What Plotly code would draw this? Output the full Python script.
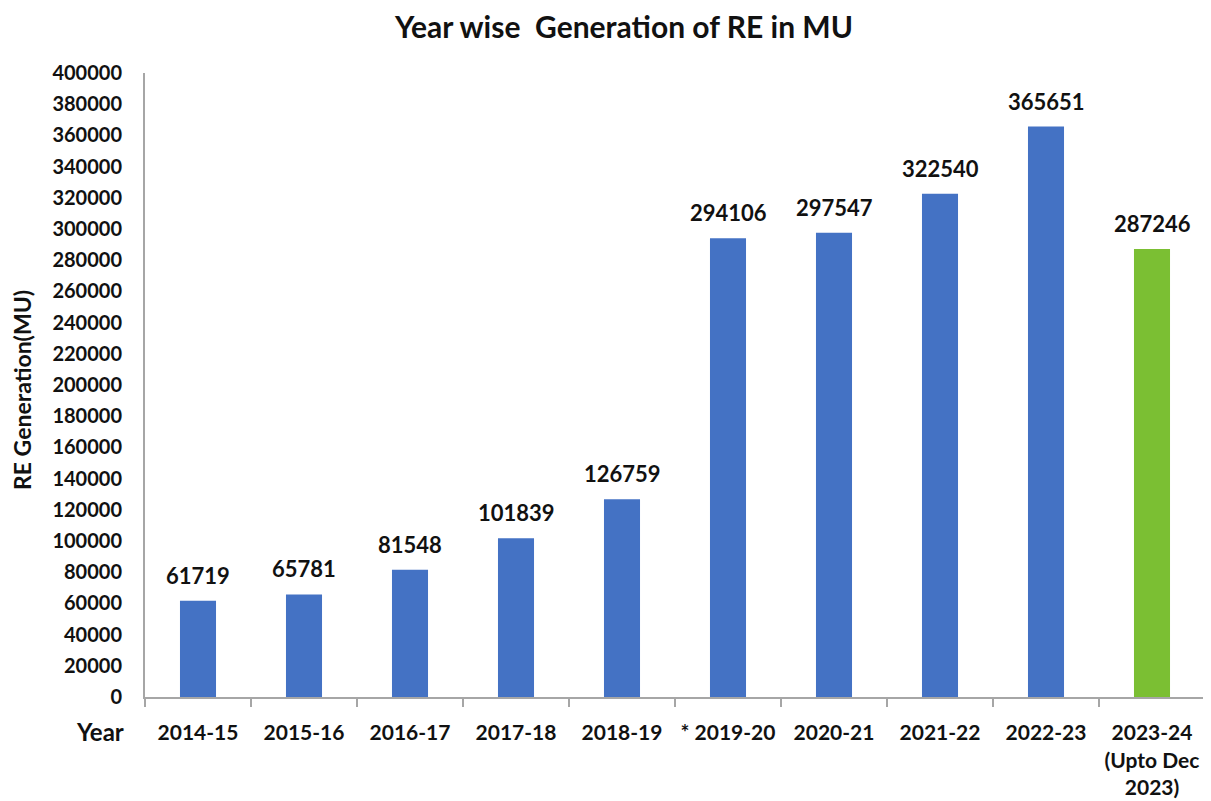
import plotly.graph_objects as go

years = ["2014-15", "2015-16", "2016-17", "2017-18", "2018-19", "* 2019-20",
         "2020-21", "2021-22", "2022-23", "2023-24<br>(Upto Dec<br>2023)"]
generation = [61719, 65781, 81548, 101839, 126759, 294106, 297547, 322540, 365651, 287246]
bar_colors = ["#4472C4"] * 9 + ["#7BBF33"]
y_ticks = list(range(0, 400001, 20000))

FONT = "Lato"
INK = "#111111"
W, H = 1203, 793  # page body has an 8px margin

fig = go.Figure(go.Bar(
    x=years, y=generation,
    marker=dict(color=bar_colors, line=dict(width=0)),
    hoverinfo="x+y",
))

for yr, val in zip(years, generation):
    fig.add_annotation(x=yr, y=val, text=str(val), xref="x", yref="y",
                       showarrow=False, yanchor="bottom", yshift=10,
                       font=dict(family=FONT, size=22, color=INK, weight="bold"))

fig.update_layout(
    width=W, height=H,
    margin=dict(l=137, r=6, t=65, b=104, autoexpand=False),
    paper_bgcolor="white", plot_bgcolor="white",
    bargap=0.66,
    showlegend=False,
    title=dict(text="<b>Year wise  Generation of RE in MU</b>", x=616 / W, xanchor="center",
               xref="container", yref="container",
               y=1 - 19 / H, yanchor="middle",
               font=dict(family=FONT, size=30, color=INK)),
    font=dict(family=FONT, color=INK),
)
fig.update_xaxes(
    type="category", showline=True, linecolor="#A6A6A6", linewidth=2,
    ticks="outside", tickson="boundaries", ticklen=8, tickcolor="#A6A6A6", tickwidth=2,
    ticklabelstandoff=16, automargin=False,
    tickfont=dict(family=FONT, size=21, color=INK, weight="bold"),
    showgrid=False,
)
fig.update_yaxes(
    range=[0, 400000], tickvals=y_ticks, ticktext=[str(v) for v in y_ticks],
    showline=True, linecolor="#A6A6A6", linewidth=2, showgrid=False,
    ticks="", ticklabelstandoff=17, automargin=False,
    tickfont=dict(family=FONT, size=20, color=INK, weight="bold"),
    zeroline=False,
)
fig.add_annotation(text="<b>RE Generation(MU)</b>", xref="paper", yref="paper",
                   x=(22 - 145) / 1060, y=(697 - 390) / 624, textangle=-90,
                   xanchor="center", yanchor="middle", showarrow=False,
                   font=dict(family=FONT, size=23, color=INK))
fig.add_annotation(text="<b>Year</b>", xref="paper", yref="paper",
                   x=(126 - 145) / 1060, y=(697 - 731) / 624,
                   xanchor="right", yanchor="middle", showarrow=False,
                   font=dict(family=FONT, size=24, color=INK))

fig.write_html("out.html")
